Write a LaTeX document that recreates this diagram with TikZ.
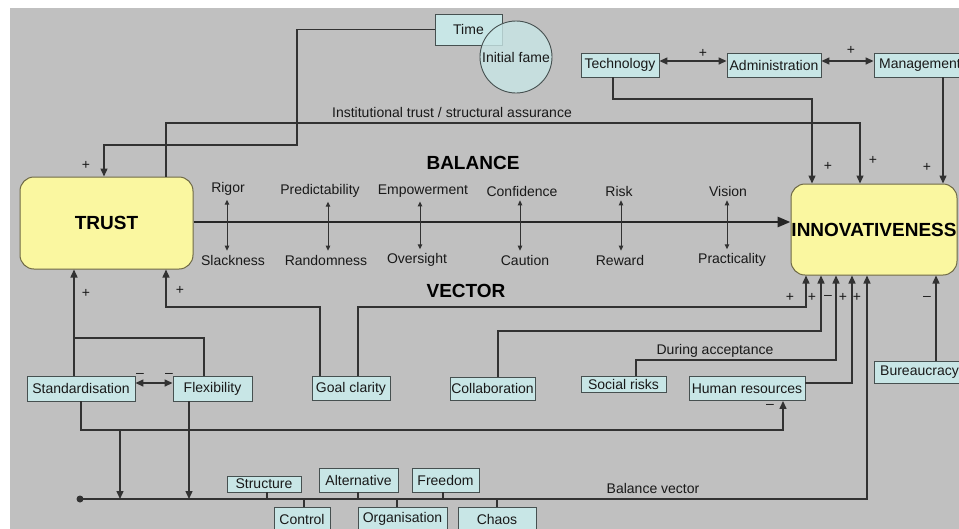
\documentclass[tikz,border=0pt]{standalone}
\usepackage{fontspec}
\setmainfont{Liberation Sans}
\usetikzlibrary{arrows.meta,calc}
\definecolor{bg}{RGB}{192,192,192}
\definecolor{boxfill}{RGB}{200,230,230}
\definecolor{boxline}{RGB}{70,80,80}
\definecolor{yel}{RGB}{250,247,160}
\definecolor{yline}{RGB}{110,105,70}
\definecolor{ln}{RGB}{50,50,50}
\definecolor{txt}{RGB}{25,25,25}
\begin{document}
\begin{tikzpicture}[x=1pt,y=-1pt,
  lab/.style={font=\fontsize{14}{16}\selectfont, text=txt, inner sep=1pt},
  sign/.style={font=\fontsize{14}{16}\selectfont, text=txt, inner sep=0pt},
  ttl/.style={font=\fontsize{19}{21}\selectfont\bfseries, text=black, inner sep=0pt},
  cbox/.style={lab, draw=boxline, fill=boxfill, line width=0.9pt, inner sep=0pt},
  ybox/.style={ttl, draw=yline, fill=yel, line width=1pt, rounded corners=14pt},
  conn/.style={draw=ln, line width=1.4pt},
  arr/.style={conn, -{Triangle[length=8pt,width=7pt]}},
  darr/.style={conn, {Triangle[length=8pt,width=7pt]}-{Triangle[length=8pt,width=7pt]}},
  barr/.style={draw=ln, line width=1pt, {Triangle[length=5pt,width=4.5pt]}-{Triangle[length=5pt,width=4.5pt]}, shorten <=3pt, shorten >=3pt},
  main/.style={draw=black!85, line width=2.8pt, -{Triangle[length=13pt,width=10pt]}},
]
\useasboundingbox (0,0) rectangle (959,528);
\fill[white] (0,0) rectangle (959,528);
\fill[bg] (10,8) rectangle (975,540);

% top boxes
\node[cbox, minimum width=67pt, minimum height=31pt] (time) at (468.5,29.5) {Time};
\node[cbox, circle, minimum size=72pt, fill opacity=0.8, text opacity=1] (fame) at (516,57) {Initial fame};
\node[cbox, minimum width=78pt, minimum height=24pt] (tech) at (620,65) {Technology};
\node[cbox, minimum width=94pt, minimum height=24pt] (admin) at (774,65) {Administration};
\node[cbox, minimum width=92pt, minimum height=24pt] (mgmt) at (920,65) {Management};

% main boxes
\node[ybox, minimum width=173pt, minimum height=92pt] (trust) at (106.5,223) {TRUST};
\node[ybox, minimum width=166pt, minimum height=91pt] (innov) at (874,229.5) {INNOVATIVENESS};

% titles and labels
\node[ttl] (balance) at (473,163) {BALANCE};
\node[ttl] (vector) at (466,291) {VECTOR};
\node[lab] (inst) at (452,112) {Institutional trust / structural assurance};
\node[lab] (during) at (715,351) {During acceptance};
\node[lab] (bvec) at (653,488) {Balance vector};

% balance pairs
\node[lab] (rigor) at (228,189) {Rigor};
\node[lab] (slack) at (233,260) {Slackness};
\node[lab] (pred) at (320,191) {Predictability};
\node[lab] (rand) at (326,260) {Randomness};
\node[lab] (emp) at (423,191) {Empowerment};
\node[lab] (over) at (417,260) {Oversight};
\node[lab] (conf) at (522,191) {Confidence};
\node[lab] (caut) at (525,260) {Caution};
\node[lab] (risk) at (619,191) {Risk};
\node[lab] (rew) at (620,260) {Reward};
\node[lab] (vis) at (728,191) {Vision};
\node[lab] (prac) at (732,260) {Practicality};

% lower boxes
\node[cbox, minimum width=108pt, minimum height=25pt] (std) at (81,388.5) {Standardisation};
\node[cbox, minimum width=79pt, minimum height=25pt] (flex) at (212.5,388.5) {Flexibility};
\node[cbox, minimum width=78pt, minimum height=24pt] (goal) at (351,388.5) {Goal clarity};
\node[cbox, minimum width=85pt, minimum height=23pt] (collab) at (492.5,388.5) {Collaboration};
\node[cbox, minimum width=85pt, minimum height=16pt] (social) at (623.5,384) {Social risks};
\node[cbox, minimum width=116pt, minimum height=24pt] (hr) at (747,388.5) {Human resources};
\node[cbox, minimum width=91pt, minimum height=22pt] (bureau) at (919.5,372) {Bureaucracy};

% bottom boxes
\node[cbox, minimum width=74pt, minimum height=16pt] (struct) at (264,484) {Structure};
\node[cbox, minimum width=79pt, minimum height=24pt] (alt) at (358.5,480) {Alternative};
\node[cbox, minimum width=67pt, minimum height=24pt] (free) at (445.5,480) {Freedom};
\node[cbox, minimum width=56pt, minimum height=24pt] (control) at (302,519) {Control};
\node[cbox, minimum width=89pt, minimum height=24pt] (org) at (402.5,519) {Organisation};
\node[cbox, minimum width=78pt, minimum height=24pt] (chaos) at (497,519) {Chaos};

% coordinates
\coordinate (bv) at (80,499);
\coordinate (bvend) at (867,499);
\coordinate (j1) at (120,430);

% signs
\node[sign] (s1) at (86,165) {+};
\node[sign] (s2) at (703,53) {+};
\node[sign] (s3) at (851,50) {+};
\node[sign] (s4) at (828,166) {+};
\node[sign] (s5) at (873,160) {+};
\node[sign] (s6) at (927,167) {+};
\node[sign] (s7) at (86,293) {+};
\node[sign] (s8) at (180,290) {+};
\node[sign] (s9) at (790,297) {+};
\node[sign] (s10) at (812,297) {+};
\node[sign] (s11) at (828,297) {–};
\node[sign] (s12) at (843,297) {+};
\node[sign] (s13) at (857,297) {+};
\node[sign] (s14) at (927,298) {–};
\node[sign] (s15) at (770,406) {–};
\node[sign] (s16) at (140,375) {–};
\node[sign] (s17) at (169,375) {–};

% top connectors
\draw[arr] (time.west) -| (297,145) -| ([xshift=-2.5pt]trust.north);
\draw[arr] (166,0 |- trust.north) |- (860,123) -- (860,0 |- innov.north);
\draw[arr] (613,0 |- tech.south) |- (812,99) -- (812,0 |- innov.north);
\draw[arr] (943,0 |- mgmt.south) -- (943,0 |- innov.north);
\draw[darr] (tech.east |- 0,61) -- (admin.west |- 0,61);
\draw[darr] (admin.east |- 0,61) -- (mgmt.west |- 0,61);

% main vector
\draw[main] (trust.east |- 0,222) -- (innov.west |- 0,222);

% balance arrows
\draw[barr] (227,0 |- rigor.south) -- (227,0 |- slack.north);
\draw[barr] (328,0 |- pred.south) -- (328,0 |- rand.north);
\draw[barr] (420,0 |- emp.south) -- (420,0 |- over.north);
\draw[barr] (520,0 |- conf.south) -- (520,0 |- caut.north);
\draw[barr] (621,0 |- risk.south) -- (621,0 |- rew.north);
\draw[barr] (727,0 |- vis.south) -- (727,0 |- prac.north);

% lower connectors to TRUST
\draw[arr] (74,0 |- std.north) -- (74,0 |- trust.south);
\draw[conn] (204,0 |- flex.north) |- (74,338);
\draw[arr] (320,0 |- goal.north) |- (166,307) -- (166,0 |- trust.south);

% lower connectors to INNOVATIVENESS
\draw[arr] (358,0 |- goal.north) |- (806,307) -- (806,0 |- innov.south);
\draw[arr] (498,0 |- collab.north) |- (821,331) -- (821,0 |- innov.south);
\draw[arr] (636,0 |- social.north) |- (836,360) -- (836,0 |- innov.south);
\draw[arr] (hr.east |- 0,383) -| (852,0 |- innov.south);
\draw[arr] (bv) -- (bvend) -- (867,0 |- innov.south);
\draw[arr] (936,0 |- bureau.north) -- (936,0 |- innov.south);
\fill[ln] (bv) circle (3.5pt);

% standardisation / flexibility
\draw[darr] (std.east |- 0,383) -- (flex.west |- 0,383);
\draw[arr] (std.south) |- (783,430) -- (783,0 |- hr.south);
\draw[arr] (j1) -- (j1 |- bv);
\draw[arr] (189,0 |- flex.south) -- (189,0 |- bv);

% bottom ticks
\draw[conn] (267,0 |- struct.south) -- (267,0 |- bv);
\draw[conn] (358,0 |- alt.south) -- (358,0 |- bv);
\draw[conn] (443,0 |- free.south) -- (443,0 |- bv);
\draw[conn] (304,0 |- bv) -- (304,0 |- control.north);
\draw[conn] (397,0 |- bv) -- (397,0 |- org.north);
\draw[conn] (497,0 |- bv) -- (497,0 |- chaos.north);
\end{tikzpicture}
\end{document}
